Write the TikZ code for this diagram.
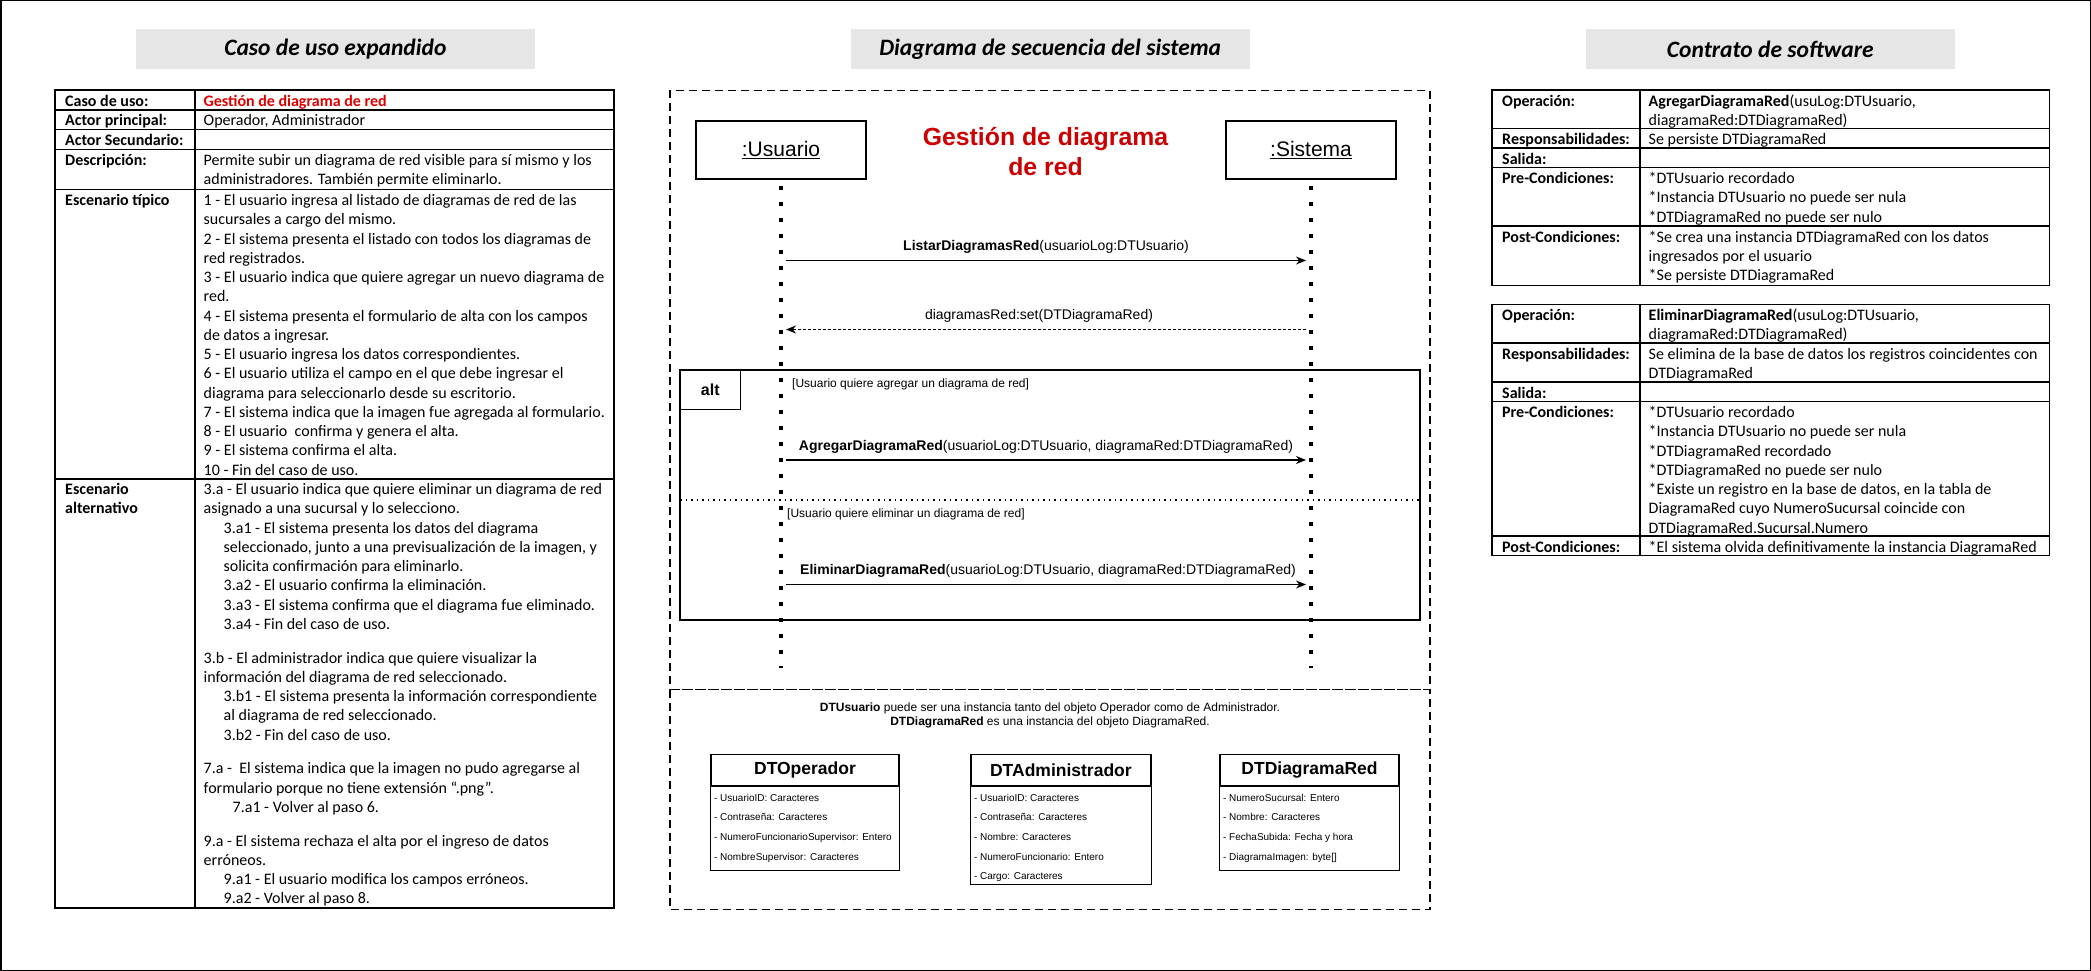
\documentclass[tikz,border=0pt]{standalone}
\usepackage{fontspec}
\setmainfont{Carlito}
\newfontfamily\arialfont{Liberation Sans}
\usepackage{xcolor}
\usepackage{tikz}
\usetikzlibrary{arrows.meta, positioning}
\definecolor{rojo}{RGB}{225,0,0}
\definecolor{rojotit}{RGB}{204,0,0}
\definecolor{grisenc}{RGB}{230,230,230}
\newcommand{\celda}{\fontsize{16}{19.25}\selectfont}
\tikzstyle{header} = [rectangle, fill=grisenc, minimum height=39.4pt, inner sep=0pt, font=\fontsize{23.5}{28}\selectfont\bfseries\itshape]
\tikzstyle{tabla} = [line width=1.2pt]
\tikzstyle{cell} = [anchor=north west, inner sep=0pt, align=left, font=\celda]
\tikzstyle{cellbf} = [cell, font=\celda\bfseries]
\tikzstyle{dashbox} = [line width=1.2pt, dash pattern=on 8pt off 5pt]
\tikzstyle{lifebox} = [rectangle, draw, line width=1.2pt, minimum width=170pt, minimum height=58pt, font=\arialfont\fontsize{21}{25}\selectfont]
\tikzstyle{titulo} = [align=center, inner sep=0pt, text=rojotit, font=\arialfont\bfseries\fontsize{24.8}{29.3}\selectfont]
\tikzstyle{lifeline} = [line width=4pt, dash pattern=on 4pt off 12pt]
\tikzstyle{msg} = [line width=1.2pt, -{Stealth[length=10pt,width=8pt]}, shorten <=5pt, shorten >=5pt]
\tikzstyle{ret} = [msg, dash pattern=on 3pt off 2pt]
\tikzstyle{msglabel} = [anchor=base, inner sep=0pt, yshift=10pt, font=\arialfont\fontsize{14}{16}\selectfont]
\tikzstyle{guard} = [anchor=west, inner sep=0pt, font=\arialfont\fontsize{12}{14}\selectfont]
\tikzstyle{altbox} = [rectangle, draw, line width=1.2pt, minimum width=740pt, minimum height=250pt]
\tikzstyle{alttab} = [rectangle, draw, line width=1.2pt, anchor=north west, minimum width=60.5pt, minimum height=39.5pt, inner sep=0pt, font=\arialfont\bfseries\fontsize{16}{19}\selectfont]
\tikzstyle{separador} = [line width=1.5pt, dash pattern=on 1.5pt off 4pt]
\tikzstyle{nota} = [align=center, inner sep=0pt, font=\arialfont\fontsize{12}{14.8}\selectfont]
\tikzstyle{classhead} = [rectangle, draw, line width=1.2pt, minimum height=30.7pt, inner sep=0pt, font=\arialfont\bfseries\fontsize{17.5}{20}\selectfont]
\tikzstyle{attrs} = [anchor=north west, inner sep=0pt, align=left, font=\arialfont\fontsize{10}{19.7}\selectfont]

\begin{document}
\begin{tikzpicture}[x=1pt, y=-1pt]
\useasboundingbox (0,0) rectangle (2091,971);
\draw[line width=1.5pt] (0.75,0.75) rectangle (2090.25,970.25);

% encabezados
\node[header, minimum width=399pt] (enc_caso) at (335.4,49) {Caso de uso expandido};
\node[header, minimum width=399pt] (enc_secuencia) at (1050.2,49) {Diagrama de secuencia del sistema};
\node[header, minimum width=369.5pt] (enc_contrato) at (1770.3,49) {Contrato de software};

% caso de uso expandido
\draw[tabla] (55,90) rectangle (614,908);
\draw[tabla] (195,90) -- (195,908);
\foreach \y in {110,129.5,149.5,189.5,479}
  \draw[tabla] (55,\y) -- (614,\y);
\node[cellbf] (lbl_caso) at (65,92.5) {\strut Caso de uso:};
\node[cellbf, text=rojo] (caso_uso) at (203.5,92.5) {\strut Gestión de diagrama de red};
\node[cellbf] (lbl_actor) at (65,112) {\strut Actor principal:};
\node[cell] (actor) at (203.5,112) {\strut Operador, Administrador};
\node[cellbf] (lbl_actor_sec) at (65,132) {\strut Actor Secundario:};
\node[cellbf] (lbl_desc) at (65,152) {\strut Descripción:};
\node[cell] (descripcion) at (203.5,152) {\strut Permite subir un diagrama de red visible para sí mismo y los\\
administradores. También permite eliminarlo.};
\node[cellbf] (lbl_tipico) at (65,192) {\strut Escenario típico};
\node[cell] (esc_tipico) at (203.5,192) {\strut 1 - El usuario ingresa al listado de diagramas de red de las\\
sucursales a cargo del mismo.\\
2 - El sistema presenta el listado con todos los diagramas de\\
red registrados.\\
3 - El usuario indica que quiere agregar un nuevo diagrama de\\
red.\\
4 - El sistema presenta el formulario de alta con los campos\\
de datos a ingresar.\\
5 - El usuario ingresa los datos correspondientes.\\
6 - El usuario utiliza el campo en el que debe ingresar el\\
diagrama para seleccionarlo desde su escritorio.\\
7 - El sistema indica que la imagen fue agregada al formulario.\\
8 - El usuario \ confirma y genera el alta.\\
9 - El sistema confirma el alta.\\
10 - Fin del caso de uso.};
\node[cellbf] (lbl_alternativo) at (65,481) {\strut Escenario\\alternativo};
\node[cell] (esc_alternativo) at (203.5,481) {\strut 3.a - El usuario indica que quiere eliminar un diagrama de red\\
asignado a una sucursal y lo selecciono.\\
\hspace*{20pt}3.a1 - El sistema presenta los datos del diagrama\\
\hspace*{20pt}seleccionado, junto a una previsualización de la imagen, y\\
\hspace*{20pt}solicita confirmación para eliminarlo.\\
\hspace*{20pt}3.a2 - El usuario confirma la eliminación.\\
\hspace*{20pt}3.a3 - El sistema confirma que el diagrama fue eliminado.\\
\hspace*{20pt}3.a4 - Fin del caso de uso.\\[14.5pt]
3.b - El administrador indica que quiere visualizar la\\
información del diagrama de red seleccionado.\\
\hspace*{20pt}3.b1 - El sistema presenta la información correspondiente\\
\hspace*{20pt}al diagrama de red seleccionado.\\
\hspace*{20pt}3.b2 - Fin del caso de uso.\\[14.5pt]
7.a - \ El sistema indica que la imagen no pudo agregarse al\\
formulario porque no tiene extensión “.png”.\\
\hspace*{29pt}7.a1 - Volver al paso 6.\\[14.5pt]
9.a - El sistema rechaza el alta por el ingreso de datos\\
erróneos.\\
\hspace*{20pt}9.a1 - El usuario modifica los campos erróneos.\\
\hspace*{20pt}9.a2 - Volver al paso 8.};

% diagrama de secuencia
\draw[dashbox] (670,90.5) rectangle (1430,689.5);
\draw[dashbox] (670,689.5) rectangle (1430,909.5);
\node[lifebox] (usuario) at (781,150) {\underline{:Usuario}};
\node[lifebox] (sistema) at (1311,150) {\underline{:Sistema}};
\node[titulo] (titulo) at (1045.5,151.5) {Gestión de diagrama\\de red};
\node[altbox] (alt_frame) at (1050,495) {};
\node[alttab] (alt_tab) at (alt_frame.north west) {alt};
\coordinate (sep_izq) at (680,500);
\coordinate (sep_der) at (1420,500);
\draw[separador] (sep_izq) -- (sep_der);
\coordinate (usuario_fin) at (781,668);
\coordinate (sistema_fin) at (1311,668);
\draw[lifeline] ([yshift=-6pt]usuario.south) -- (usuario_fin);
\draw[lifeline] ([yshift=-6pt]sistema.south) -- (sistema_fin);
\node[guard] (guarda_agregar) at (792,384.5) {[Usuario quiere agregar un diagrama de red]};
\node[guard] (guarda_eliminar) at (787,514) {[Usuario quiere eliminar un diagrama de red]};
\coordinate (u_listar) at (781,260.5);
\coordinate (s_listar) at (1311,260.5);
\coordinate (u_set) at (781,329.5);
\coordinate (s_set) at (1311,329.5);
\coordinate (u_agregar) at (781,460);
\coordinate (s_agregar) at (1311,460);
\coordinate (u_eliminar) at (781,584.5);
\coordinate (s_eliminar) at (1311,584.5);
\draw[msg] (u_listar) -- node[msglabel] {\textbf{ListarDiagramasRed}(usuarioLog:DTUsuario)} (s_listar);
\draw[ret] (s_set) -- node[msglabel, xshift=-7pt] {diagramasRed:set(DTDiagramaRed)} (u_set);
\draw[msg] (u_agregar) -- node[msglabel] {\textbf{AgregarDiagramaRed}(usuarioLog:DTUsuario, diagramaRed:DTDiagramaRed)} (s_agregar);
\draw[msg] (u_eliminar) -- node[msglabel, xshift=2pt] {\textbf{EliminarDiagramaRed}(usuarioLog:DTUsuario, diagramaRed:DTDiagramaRed)} (s_eliminar);

% objetos
\node[nota] (nota) at (1050,715.5) {\textbf{DTUsuario} puede ser una instancia tanto del objeto Operador como de Administrador.\\
\textbf{DTDiagramaRed} es una instancia del objeto DiagramaRed.};
\node[classhead, minimum width=188pt] (dt_operador) at (805,770.2) {DTOperador};
\draw[tabla] (dt_operador.south west) rectangle ([yshift=-84pt]dt_operador.south east);
\node[attrs] (dt_operador_attr) at ([xshift=3.5pt,yshift=-1pt]dt_operador.south west) {\strut- UsuarioID: Caracteres\\
- Contraseña: Caracteres\\
- NumeroFuncionarioSupervisor: Entero\\
- NombreSupervisor: Caracteres};
\node[classhead, minimum width=180pt] (dt_admin) at (1060.9,770.2) {DTAdministrador};
\draw[tabla] (dt_admin.south west) rectangle ([yshift=-98.7pt]dt_admin.south east);
\node[attrs] (dt_admin_attr) at ([xshift=3.5pt,yshift=-1pt]dt_admin.south west) {\strut- UsuarioID: Caracteres\\
- Contraseña: Caracteres\\
- Nombre: Caracteres\\
- NumeroFuncionario: Entero\\
- Cargo: Caracteres};
\node[classhead, minimum width=179pt] (dt_diagrama) at (1309.5,770.2) {DTDiagramaRed};
\draw[tabla] (dt_diagrama.south west) rectangle ([yshift=-84pt]dt_diagrama.south east);
\node[attrs] (dt_diagrama_attr) at ([xshift=3.5pt,yshift=-1pt]dt_diagrama.south west) {\strut- NumeroSucursal: Entero\\
- Nombre: Caracteres\\
- FechaSubida: Fecha y hora\\
- DiagramaImagen: byte[]};

% contrato de software
\draw[tabla] (1492,90) rectangle (2049.5,285.5);
\draw[tabla] (1640,90) -- (1640,285.5);
\foreach \y in {128.5,148,167.5,226}
  \draw[tabla] (1492,\y) -- (2049.5,\y);
\node[cellbf] (op1_lbl) at (1502,92.5) {\strut Operación:};
\node[cell] (op1) at (1648.5,92.5) {\strut\textbf{AgregarDiagramaRed}(usuLog:DTUsuario,\\
diagramaRed:DTDiagramaRed)};
\node[cellbf] (resp1_lbl) at (1502,131) {\strut Responsabilidades:};
\node[cell] (resp1) at (1648.5,131) {\strut Se persiste DTDiagramaRed};
\node[cellbf] (sal1_lbl) at (1502,150.5) {\strut Salida:};
\node[cellbf] (pre1_lbl) at (1502,170) {\strut Pre-Condiciones:};
\node[cell] (pre1) at (1648.5,170) {\strut *DTUsuario recordado\\
*Instancia DTUsuario no puede ser nula\\
*DTDiagramaRed no puede ser nulo};
\node[cellbf] (post1_lbl) at (1502,228.5) {\strut Post-Condiciones:};
\node[cell] (post1) at (1648.5,228.5) {\strut *Se crea una instancia DTDiagramaRed con los datos\\
ingresados por el usuario\\
*Se persiste DTDiagramaRed};

\draw[tabla] (1492,304.5) rectangle (2049.5,555.5);
\draw[tabla] (1640,304.5) -- (1640,555.5);
\foreach \y in {343,382,401.5,536}
  \draw[tabla] (1492,\y) -- (2049.5,\y);
\node[cellbf] (op2_lbl) at (1502,307) {\strut Operación:};
\node[cell] (op2) at (1648.5,307) {\strut\textbf{EliminarDiagramaRed}(usuLog:DTUsuario,\\
diagramaRed:DTDiagramaRed)};
\node[cellbf] (resp2_lbl) at (1502,345.5) {\strut Responsabilidades:};
\node[cell] (resp2) at (1648.5,345.5) {\strut Se elimina de la base de datos los registros coincidentes con\\
DTDiagramaRed};
\node[cellbf] (sal2_lbl) at (1502,384.5) {\strut Salida:};
\node[cellbf] (pre2_lbl) at (1502,404) {\strut Pre-Condiciones:};
\node[cell] (pre2) at (1648.5,404) {\strut *DTUsuario recordado\\
*Instancia DTUsuario no puede ser nula\\
*DTDiagramaRed recordado\\
*DTDiagramaRed no puede ser nulo\\
*Existe un registro en la base de datos, en la tabla de\\
DiagramaRed cuyo NumeroSucursal coincide con\\
DTDiagramaRed.Sucursal.Numero};
\node[cellbf] (post2_lbl) at (1502,538.5) {\strut Post-Condiciones:};
\node[cell] (post2) at (1648.5,538.5) {\strut *El sistema olvida definitivamente la instancia DiagramaRed};
\end{tikzpicture}
\end{document}
